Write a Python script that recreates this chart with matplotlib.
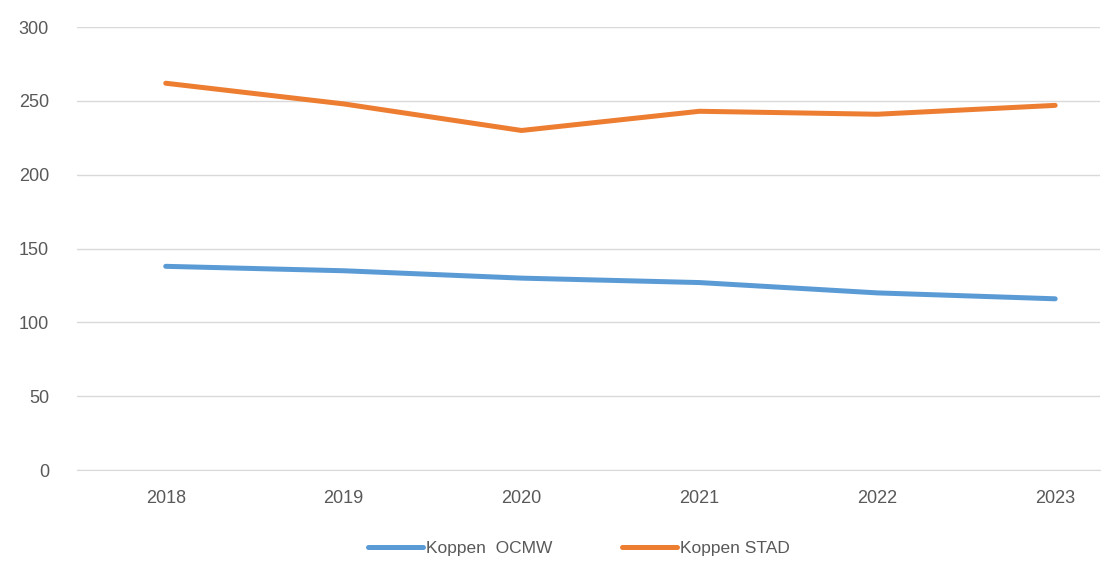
import matplotlib.pyplot as plt

years = ["2018", "2019", "2020", "2021", "2022", "2023"]
ocmw = [138, 135, 130, 127, 120, 116]
stad = [262, 248, 230, 243, 241, 247]

plt.rcParams['font.family'] = ['Liberation Sans', 'DejaVu Sans']
text_col = '#595959'
grid_col = '#D9D9D9'

fig = plt.figure(figsize=(11.13, 5.65), dpi=100)
ax = fig.add_axes([0.069, 0.168, 0.919, 0.784])

x = range(len(years))
ax.plot(x, ocmw, color='#5B9BD5', lw=3.6, solid_capstyle='round', solid_joinstyle='round', label='Koppen  OCMW')
ax.plot(x, stad, color='#ED7D31', lw=3.6, solid_capstyle='round', solid_joinstyle='round', label='Koppen STAD')

ax.set_ylim(0, 300)
ax.set_xlim(-0.5, 5.25)
ax.set_yticks(range(0, 301, 50))
ax.set_xticks(list(x))
ax.set_xticklabels(years)
ax.grid(axis='y', color=grid_col, lw=1)
ax.set_axisbelow(True)
for s in ['top', 'right', 'left']:
    ax.spines[s].set_visible(False)
ax.spines['bottom'].set_color(grid_col)
ax.tick_params(axis='both', length=0, labelsize=13, colors=text_col)
ax.tick_params(axis='y', pad=20)
ax.tick_params(axis='x', pad=14)

leg = fig.legend(loc='center', bbox_to_anchor=(0.52, 0.03), ncol=2, frameon=False,
                 fontsize=12.5, handlelength=3.2, handletextpad=0.15, columnspacing=4.0)
for t in leg.get_texts():
    t.set_color(text_col)

fig.savefig('out.png', dpi=100)
